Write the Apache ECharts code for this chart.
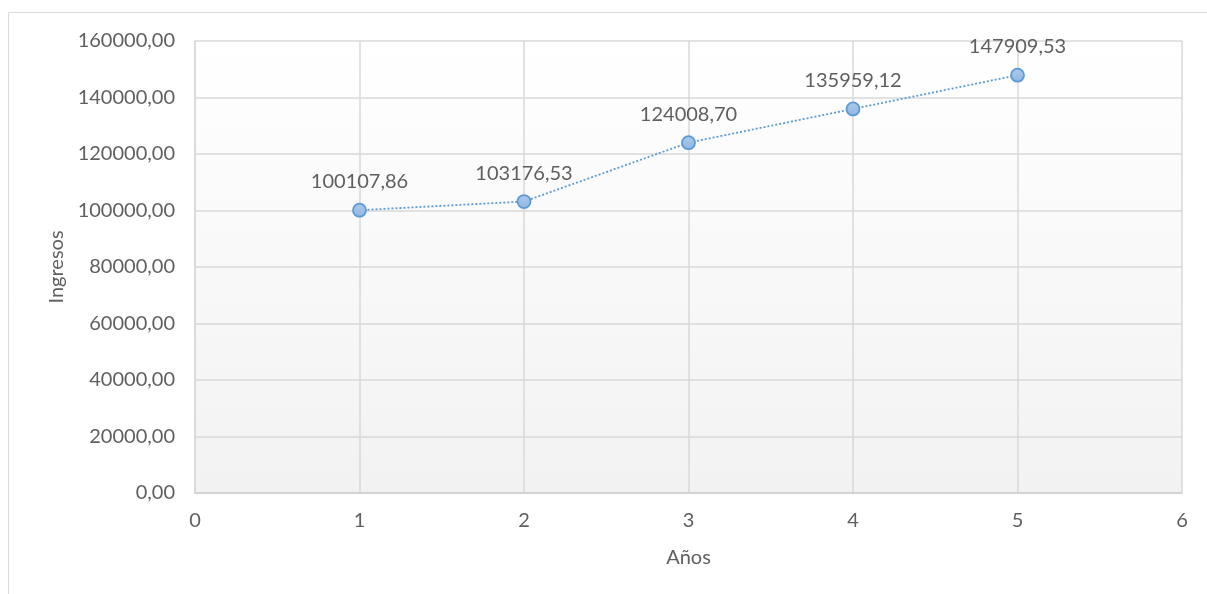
<!DOCTYPE html>
<html>
<head>
<meta charset="utf-8">
<script src="https://cdn.jsdelivr.net/npm/echarts@6/dist/echarts.min.js"></script>
<style>
  html, body { margin: 0; padding: 0; background: #ffffff; }
  #chart { width: 1207px; height: 594px; }
</style>
</head>
<body>
<div id="chart"></div>
<script>
// Ingresos por año
const years = [1, 2, 3, 4, 5];
const ingresos = [100107.86, 103176.53, 124008.70, 135959.12, 147909.53];
const xTicks = [0, 1, 2, 3, 4, 5, 6];
const yTicks = [0, 20000, 40000, 60000, 80000, 100000, 120000, 140000, 160000];

const textColor = '#5f5f5f';
const fontFamily = 'Lato, "Open Sans", sans-serif';
const fmt = v => Number(v).toFixed(2).replace('.', ',');

const chart = echarts.init(document.getElementById('chart'), null, { renderer: 'canvas' });

chart.setOption({
  backgroundColor: '#ffffff',
  animation: false,
  graphic: [{
    type: 'rect',
    shape: { x: 8.5, y: 12.5, width: 1220, height: 620 },
    style: { fill: null, stroke: '#d9d9d9', lineWidth: 1 },
    silent: true,
    z: -10
  }],
  grid: {
    left: 195, right: 25, top: 41, bottom: 101,
    show: true,
    borderWidth: 0,
    backgroundColor: new echarts.graphic.LinearGradient(0, 0, 0, 1, [
      { offset: 0, color: '#ffffff' },
      { offset: 1, color: '#f2f2f2' }
    ])
  },
  xAxis: {
    type: 'value',
    min: xTicks[0], max: xTicks[xTicks.length - 1], interval: 1,
    name: 'Años',
    nameLocation: 'middle',
    nameGap: 55,
    nameTextStyle: { color: textColor, fontSize: 20, fontFamily },
    axisLine: { show: true, lineStyle: { color: '#d0d0d0', width: 1.5 } },
    axisTick: { show: false },
    axisLabel: { color: textColor, fontSize: 20, fontFamily, margin: 18 },
    splitLine: { show: true, lineStyle: { color: '#d9d9d9', width: 1.5 } }
  },
  yAxis: {
    type: 'value',
    min: yTicks[0], max: yTicks[yTicks.length - 1], interval: 20000,
    name: 'Ingresos',
    nameLocation: 'middle',
    nameGap: 127,
    nameRotate: 90,
    nameTextStyle: { color: textColor, fontSize: 20, fontFamily },
    axisLine: { show: true, lineStyle: { color: '#d9d9d9', width: 1.5 } },
    axisTick: { show: false },
    axisLabel: { color: textColor, fontSize: 20, fontFamily, margin: 20, formatter: fmt },
    splitLine: { show: true, lineStyle: { color: '#d9d9d9', width: 1.5 } }
  },
  series: [{
    type: 'line',
    data: years.map((x, i) => [x, ingresos[i]]),
    symbol: 'circle',
    symbolSize: 13,
    lineStyle: { color: '#5b9bd5', width: 1.8, type: [2, 2] },
    itemStyle: {
      color: new echarts.graphic.LinearGradient(0, 0, 0, 1, [
        { offset: 0, color: '#aecbeb' },
        { offset: 1, color: '#8fb6e1' }
      ]),
      borderColor: '#5b9bd5',
      borderWidth: 1.8
    },
    label: {
      show: true,
      position: 'top',
      distance: 11,
      color: textColor,
      fontSize: 20,
      fontFamily,
      formatter: p => fmt(p.value[1])
    },
    emphasis: { disabled: true }
  }]
});
</script>
</body>
</html>
